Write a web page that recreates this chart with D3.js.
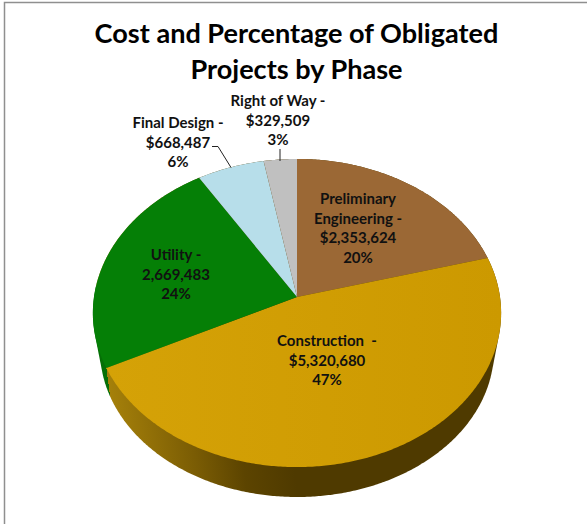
<!DOCTYPE html>
<html>
<head>
<meta charset="utf-8">
<script src="https://cdn.jsdelivr.net/npm/d3@7"></script>
<style>
  html, body { margin: 0; padding: 0; background: #fff; }
  svg { display: block; }
  text { font-family: Lato, "Open Sans", sans-serif; font-weight: 700; fill: #111; }
</style>
</head>
<body>
<div id="chart"></div>
<script>
// Data
const phases = ['Preliminary Engineering', 'Construction', 'Utility', 'Final Design', 'Right of Way']
const costs = [2353624, 5320680, 2669483, 668487, 329509]
const colors = ['#9b6835', 'url(#goldFill)', '#057f06', '#b7deea', '#c0c0c0']
const labelLines = [
  ['Preliminary', 'Engineering -', '$2,353,624', '20%'],
  ['Construction  -', '$5,320,680', '47%'],
  ['Utility -', '2,669,483', '24%'],
  ['Final Design -', '$668,487', '6%'],
  ['Right of Way -', '$329,509', '3%'],
]
const titleLines = ['Cost and Percentage of Obligated', 'Projects by Phase']

// Dimensions
const width = 587, height = 524
const labelAt = [[358, 204], [327, 346], [176, 260], [178, 128], [278, 106]]

const svg = d3.select('#chart').append('svg')
  .attr('width', width)
  .attr('height', height)

// picture frame, only top and left are visible
svg.append('path')
  .attr('d', `M4.5,${height}V2.5H${width}`)
  .attr('fill', 'none')
  .attr('stroke', '#8f8f8f')
  .attr('stroke-width', 1.5)

svg.append('g').selectAll('text')
  .data(titleLines)
  .join('text')
  .attr('x', 296.5)
  .attr('y', (d, i) => 43 + i * 36)
  .attr('text-anchor', 'middle')
  .attr('font-size', 27.1)
  .style('fill', '#000')
  .text(d => d)

// the tilted pie: disc points go through a small perspective
const cx = 297, cy = 297, kPersp = 0.104, ax = 203, ay = 152.4
const project = a => {
  const u = Math.sin(a), v = -Math.cos(a)
  const w = 1 - kPersp * v
  return [cx + ax * u / w, cy + ay * v / w]
}

const pie = d3.pie().sort(null)
const arcs = pie(costs)
const line = d3.line()

// side wall is the hull of the top rim and the smaller bottom rim
const rim = d3.range(0, 2 * Math.PI, 0.01)
const bottomRim = rim.map(a => [297 + 197 * Math.sin(a), 350 + 147 * Math.cos(a)])
const wall = d3.polygonHull(rim.map(project).concat(bottomRim))

const defs = svg.append('defs')
const [seamX, seamY] = project(arcs[1].endAngle)
const wallGrad = defs.append('linearGradient')
  .attr('id', 'wallFill')
  .attr('gradientUnits', 'userSpaceOnUse')
  .attr('gradientTransform', `rotate(-7.4 ${seamX} ${seamY})`)
  .attr('x1', 0).attr('x2', width).attr('y1', 0).attr('y2', 0)
const wallStops = [
  [seamX, '#056f06'], [seamX, '#a5800a'],
  [183, '#7a5c04'], [230, '#5c4400'], [280, '#4f3a00'], [width, '#4f3a00'],
]
wallGrad.selectAll('stop')
  .data(wallStops)
  .join('stop')
  .attr('offset', d => d[0] / width)
  .attr('stop-color', d => d[1])

const goldGrad = defs.append('linearGradient')
  .attr('id', 'goldFill')
goldGrad.selectAll('stop')
  .data(['#d5a207', '#cc9900'])
  .join('stop')
  .attr('offset', (d, i) => i)
  .attr('stop-color', d => d)

svg.append('path')
  .attr('d', line(wall) + 'Z')
  .attr('fill', 'url(#wallFill)')

// Top face
svg.append('g').selectAll('path')
  .data(arcs)
  .join('path')
  .attr('fill', (d, i) => colors[i])
  .attr('d', d => {
    const pts = d3.range(d.startAngle, d.endAngle, 0.01).map(project)
    pts.push(project(d.endAngle))
    return line([[cx, cy], ...pts]) + 'Z'
  })

// Leader lines
const leaders = [
  [[212, 146.5], [218, 146.5], [231, 167.5]],
  [[280, 149], [280, 161]],
]
svg.append('g').selectAll('path')
  .data(leaders)
  .join('path')
  .attr('d', line)
  .attr('fill', 'none')
  .attr('stroke', '#222')
  .attr('stroke-width', 1)

// Labels
const labels = svg.append('g').selectAll('text')
  .data(labelLines)
  .join('text')
  .attr('text-anchor', 'middle')
  .attr('font-size', 15)
  .attr('transform', (d, i) => `translate(${labelAt[i]})`)

labels.selectAll('tspan')
  .data(d => d)
  .join('tspan')
  .attr('x', 0)
  .attr('y', (d, i) => i * 19.7)
  .style('white-space', 'pre')
  .text(d => d)
</script>
</body>
</html>
